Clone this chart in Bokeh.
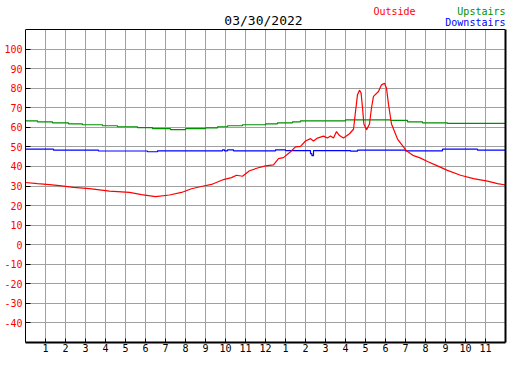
from bokeh.plotting import figure
from bokeh.models import FixedTicker, Range1d, Label, LinearAxis, Span
from bokeh.embed import file_html
from bokeh.resources import INLINE

title_text = "03/30/2022"
series_names = ["Outside", "Upstairs", "Downstairs"]
series_colors = ["#ff0000", "#009000", "#0000ff"]

hour_ticks = list(range(1, 24))
hour_labels = [str(h % 12 if h % 12 else 12) for h in hour_ticks]
temp_ticks = list(range(-40, 101, 10))
temp_labels = [str(t) for t in temp_ticks]
temp_min, temp_max = -50, 110

out_hours = [0.0, 0.6, 1.2, 1.7, 2.4, 3.2, 4.2, 5.2, 5.8, 6.5, 7.2, 7.8, 8.3, 8.9, 9.3,
             9.9, 10.3, 10.55, 10.85, 11.2, 11.6, 12.0, 12.4, 12.65, 12.9, 13.25, 13.5,
             13.75, 14.0, 14.25, 14.4, 14.6, 14.9, 15.1, 15.25, 15.4, 15.55, 15.7, 15.9,
             16.2, 16.4, 16.5, 16.6, 16.7, 16.78, 16.85, 16.92, 17.05, 17.2, 17.3, 17.4,
             17.65, 17.8, 17.95, 18.05, 18.15, 18.3, 18.6, 19.05, 19.4, 19.7, 20.1, 20.6,
             21.1, 21.75, 22.4, 23.1, 23.6, 24.0]
out_temps = [31.8, 31.2, 30.7, 30.2, 29.3, 28.7, 27.4, 26.7, 25.6, 24.6, 25.4, 26.7, 28.6, 30.0, 30.8,
             33.3, 34.3, 35.5, 35.0, 37.8, 39.2, 40.3, 40.8, 44.0, 44.5, 47.5, 50.0,
             50.3, 53.0, 54.2, 53.0, 54.5, 55.5, 54.5, 55.5, 54.5, 57.8, 55.8, 54.5,
             56.7, 59.0, 68.0, 76.7, 79.0, 77.5, 70.0, 61.7, 58.7, 61.7, 70.0, 75.8,
             78.3, 81.7, 82.5, 80.0, 71.7, 61.7, 54.0, 48.0, 45.5, 44.5, 42.5, 40.3,
             38.0, 35.5, 33.8, 32.5, 31.2, 30.5]

up_hours = [0.0, 0.6, 1.35, 2.15, 2.85, 3.85, 4.6, 5.6, 6.35, 7.25, 8.0, 9.0, 9.6, 10.1,
            10.85, 12.0, 12.6, 13.35, 13.75, 16.0, 18.25, 19.1, 19.85, 21.1, 24.0]
up_temps = [63.3, 62.8, 62.3, 61.8, 61.3, 60.8, 60.3, 59.8, 59.3, 58.8, 59.3, 59.7, 60.3, 60.8,
            61.3, 61.8, 62.3, 62.8, 63.3, 63.8, 63.5, 62.8, 62.3, 62.0, 62.0]

down_hours = [0.0, 1.4, 3.65, 6.1, 6.6, 9.85, 9.95, 10.1, 10.4, 12.5, 13.0, 14.25, 14.32,
              14.4, 16.25, 16.6, 19.0, 20.85, 22.6, 24.0]
down_temps = [48.8, 48.3, 47.9, 47.5, 48.0, 48.5, 48.0, 48.5, 48.0, 48.5, 48.1, 46.5, 45.5,
              48.1, 47.8, 48.3, 48.0, 48.8, 48.3, 48.3]

mono = "DejaVu Sans Mono"

# frame spans the header too; the chart box itself is temp_min..temp_max
px_per_unit = 313 / 160.0
header_px = 29
y_top = temp_max + header_px / px_per_unit

p = figure(width=511, height=354, output_backend="svg", toolbar_location=None,
           x_range=Range1d(0, 24), y_range=Range1d(temp_min, y_top), title_location=None,
           min_border_left=25, min_border_right=6, min_border_top=0, min_border_bottom=12)
p.background_fill_color = "white"
p.border_fill_color = "white"
p.outline_line_color = None

# x axis
p.xaxis.ticker = FixedTicker(ticks=hour_ticks)
p.xaxis.major_label_overrides = dict(zip(hour_ticks, hour_labels))
p.xaxis.major_tick_in = 4
p.xaxis.major_tick_out = 0
p.xaxis.minor_tick_line_color = None
p.xaxis.axis_line_width = 2
p.xaxis.major_label_standoff = 1
p.xaxis.major_label_text_font = mono
p.xaxis.major_label_text_font_size = "10px"
p.xaxis.major_label_text_color = "black"

# y axis
p.yaxis.ticker = FixedTicker(ticks=temp_ticks)
p.yaxis.major_label_overrides = dict(zip(temp_ticks, temp_labels))
p.yaxis.bounds = (temp_min, temp_max)
p.yaxis.major_tick_in = 5
p.yaxis.major_tick_out = 0
p.yaxis.minor_tick_line_color = None
p.yaxis.axis_line_width = 1
p.yaxis.major_label_standoff = 3
p.yaxis.major_label_text_font = mono
p.yaxis.major_label_text_font_size = "10px"
p.yaxis.major_label_text_color = "#ff0000"

right_axis = LinearAxis(ticker=FixedTicker(ticks=[]), axis_line_width=2,
                        bounds=(temp_min, temp_max), major_label_standoff=0,
                        major_tick_line_color=None, minor_tick_line_color=None,
                        major_label_text_font_size="0px")
p.add_layout(right_axis, "right")

p.xgrid.visible = False
p.ygrid.grid_line_color = "#a0a0a0"
p.ygrid.grid_line_width = 1

# vertical grid lines limited to the chart box
p.segment(x0=hour_ticks, y0=[temp_min] * len(hour_ticks), x1=hour_ticks,
          y1=[temp_max] * len(hour_ticks), line_color="#a0a0a0", line_width=1)

p.add_layout(Span(location=temp_max, dimension="width", line_color="black", line_width=1))

p.step(up_hours, up_temps, mode="after", line_color=series_colors[1], line_width=1.2)
p.step(down_hours, down_temps, mode="after", line_color=series_colors[2], line_width=1.2)
p.line(out_hours, out_temps, line_color=series_colors[0], line_width=1.2)

def header_y(baseline_px):
    return temp_max + (header_px - baseline_px) / px_per_unit

p.add_layout(Label(x=11.9, y=header_y(20), text=title_text, text_align="center",
                   text_baseline="alphabetic", text_font=mono, text_font_size="13px",
                   text_color="black"))
p.add_layout(Label(x=17.4, y=header_y(10.5), text=series_names[0], text_align="left",
                   text_baseline="alphabetic", text_font=mono, text_font_size="10px",
                   text_color=series_colors[0]))
p.add_layout(Label(x=24, y=header_y(10.5), text=series_names[1], text_align="right",
                   text_baseline="alphabetic", text_font=mono, text_font_size="10px",
                   text_color=series_colors[1]))
p.add_layout(Label(x=24, y=header_y(22), text=series_names[2], text_align="right",
                   text_baseline="alphabetic", text_font=mono, text_font_size="10px",
                   text_color=series_colors[2]))

open("out.html", "w").write(file_html(p, INLINE))
